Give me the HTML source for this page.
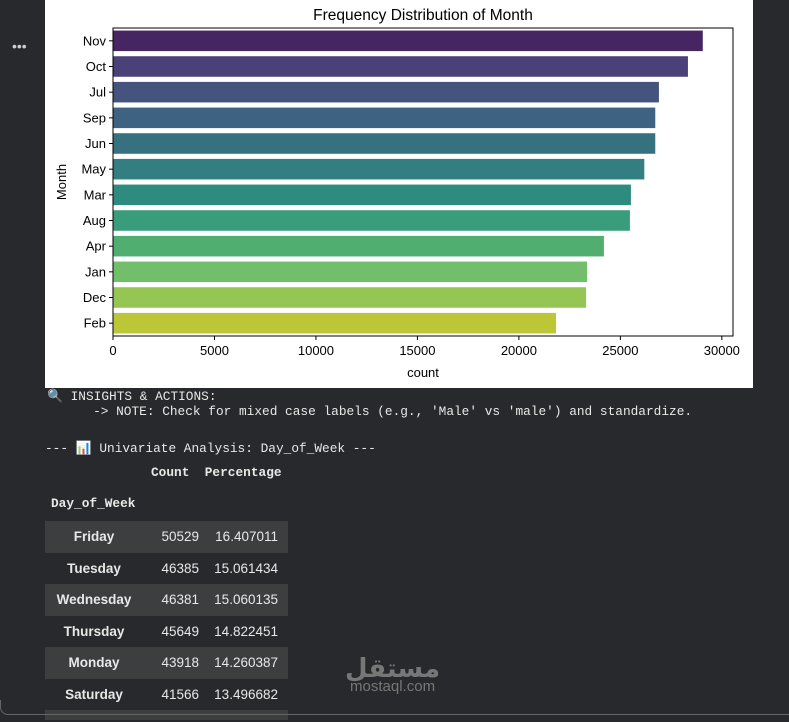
<!DOCTYPE html>
<html><head><meta charset="utf-8"><style>
html,body{margin:0;width:789px;height:722px;overflow:hidden}
body{background:#28292c;position:relative;font-family:"Liberation Sans",sans-serif}
.mono{font-family:"Liberation Mono","DejaVu Sans Mono",monospace;font-size:12.8px;color:#e8e8e8;position:absolute;white-space:pre}
table{position:absolute;left:45px;top:521px;border-collapse:collapse;font-size:13.5px;color:#e8e8e8}
td{height:31.5px;padding:0}
tr:nth-child(odd){background:#3d3e40}
td.h{width:98px;text-align:center;font-weight:bold}
td.c{width:56px;text-align:right}
td.p{width:79px;text-align:right;padding-right:10px}
tr.last td{height:10px}
</style></head><body>
<div style="position:absolute;left:12px;top:38px;color:#ccc;font-size:14px">•••</div>
<svg style="position:absolute;left:45px;top:0" width="708" height="388">
<rect width="708" height="388" fill="#fff"/>
<g id="g"></g>
</svg>
<div class="mono" style="left:47px;top:389px">🔍 INSIGHTS &amp; ACTIONS:
      -&gt; NOTE: Check for mixed case labels (e.g., 'Male' vs 'male') and standardize.</div>
<div class="mono" style="left:45px;top:441px">--- 📊 Univariate Analysis: Day_of_Week ---</div>
<div class="mono" style="left:151px;top:465px;font-weight:bold">Count  Percentage</div>
<div class="mono" style="left:51px;top:496px;font-weight:bold">Day_of_Week</div>
<table>
<tr><td class="h">Friday</td><td class="c">50529</td><td class="p">16.407011</td></tr>
<tr><td class="h">Tuesday</td><td class="c">46385</td><td class="p">15.061434</td></tr>
<tr><td class="h">Wednesday</td><td class="c">46381</td><td class="p">15.060135</td></tr>
<tr><td class="h">Thursday</td><td class="c">45649</td><td class="p">14.822451</td></tr>
<tr><td class="h">Monday</td><td class="c">43918</td><td class="p">14.260387</td></tr>
<tr><td class="h">Saturday</td><td class="c">41566</td><td class="p">13.496682</td></tr>
<tr class="last"><td class="h"></td><td class="c"></td><td class="p"></td></tr>
</table>
<div style="position:absolute;left:345px;top:660px;color:#777;font-size:15px;text-align:center;line-height:18px"><div style="font-size:26px;font-family:'DejaVu Sans',sans-serif;font-weight:bold">مستقل</div>mostaql.com</div>
<div style="position:absolute;left:0;top:700px;width:789px;height:14px;border-bottom:1px solid #666;border-left:1px solid #666;border-bottom-left-radius:8px"></div>
<script>
const months=["Nov","Oct","Jul","Sep","Jun","May","Mar","Aug","Apr","Jan","Dec","Feb"];
const counts=[29060,28330,26900,26720,26720,26180,25520,25470,24190,23360,23310,21830];
const colors=["#472562","#4a4179","#45537f","#3e6281","#37707f","#327e80","#2e8b80","#399c7a","#50ae71","#72be6a","#95c654","#bbc736"];
const xticks=[0,5000,10000,15000,20000,25000,30000];
const NS="http://www.w3.org/2000/svg",g=document.getElementById("g");
const L=68,R=688,T=28,B=336,xMax=30550;
const x=v=>L+v/xMax*(R-L);
const step=(B-T)/months.length;
const y=i=>T+step*(i+0.5);
function mk(t,a,txt){const e=document.createElementNS(NS,t);for(const k in a)e.setAttribute(k,a[k]);if(txt!=null)e.textContent=txt;g.appendChild(e);return e;}
months.forEach((m,i)=>{
 const r=mk("rect",{x:x(0),y:y(i)-step*0.4,width:x(counts[i])-x(0),height:step*0.8,fill:colors[i]});
 
 
 mk("line",{x1:L-4,x2:L,y1:y(i),y2:y(i),stroke:"#000"});
 const t=mk("text",{x:L-7,y:y(i)+4.5,"text-anchor":"end","font-size":13,fill:"#000"},m);
 
 
});
xticks.forEach(v=>{
 mk("line",{x1:x(v),x2:x(v),y1:B,y2:B+4,stroke:"#000"});
 const t=mk("text",{x:x(v),y:B+19,"text-anchor":"middle","font-size":13,fill:"#000"},String(v));
 
 
});
mk("rect",{x:L,y:T,width:R-L,height:B-T,fill:"none",stroke:"#000","stroke-width":1});
const ti=mk("text",{x:(L+R)/2,y:20,"text-anchor":"middle","font-size":15.5,fill:"#000"},"Frequency Distribution of Month");


const xl=mk("text",{x:(L+R)/2,y:377,"text-anchor":"middle","font-size":13,fill:"#000"},"count");


const yl=mk("text",{x:0,y:0,transform:"translate(21,"+((T+B)/2)+") rotate(-90)","text-anchor":"middle","font-size":13,fill:"#000"},"Month");


</script>
</body></html>
